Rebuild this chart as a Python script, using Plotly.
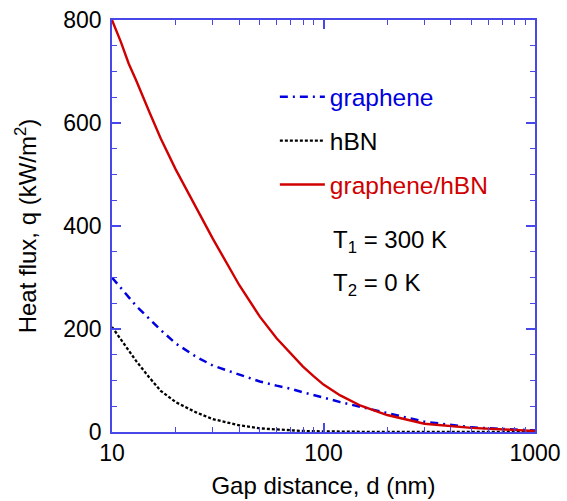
import plotly.graph_objects as go

d_nm = [10, 11, 12, 13, 15, 17, 20, 25, 30, 40, 50, 60, 70, 80, 90, 100, 120, 150, 200, 300, 500, 700, 1000]
q_graphene = [300, 280, 260, 245, 220, 198, 172, 146, 129, 111, 98, 90, 84, 77, 71, 67, 58, 49, 37, 20, 9, 6, 3]
q_hbn = [204, 180, 160, 138, 106, 80, 58, 38, 25, 13, 7, 4.5, 3, 2, 1.5, 1.1, 0.7, 0.4, 0.2, 0.1, 0.05, 0.02, 0.0]
q_gh = [800, 758, 715, 683, 622, 570, 510, 435, 375, 285, 224, 182, 153, 127, 108, 92, 71, 51, 33, 16, 8, 5, 2]

series_names = ["graphene", "hBN", "graphene/hBN"]
series_colors = ["#0000e0", "#000000", "#d00000"]

axis_color = "#4848e8"
font_family = "Liberation Sans, Arial, sans-serif"
fs_tick = 23
fs_title = 24
fs_text = 24.5

fig = go.Figure()
fig.add_trace(go.Scatter(x=d_nm, y=q_graphene, mode="lines",
                         name=f"<span style='color:{series_colors[0]}'>{series_names[0]}</span>",
                         legendgroup="a",
                         line=dict(color=series_colors[0], width=2.5, dash="8px,5px,2px,5px")))
fig.add_trace(go.Scatter(x=d_nm, y=q_hbn, mode="lines",
                         name=f"<span style='color:{series_colors[1]}'>{series_names[1]}</span>",
                         legendgroup="b",
                         line=dict(color=series_colors[1], width=2.3, dash="3px,2px")))
fig.add_trace(go.Scatter(x=d_nm, y=q_gh, mode="lines",
                         name=f"<span style='color:{series_colors[2]}'>{series_names[2]}</span>",
                         legendgroup="c",
                         line=dict(color=series_colors[2], width=2.4)))

fig.add_annotation(x=0.518, y=0.462, xref="paper", yref="paper", xanchor="left", yanchor="middle",
                   text="T<sub>1</sub> = 300 K", showarrow=False,
                   font=dict(size=fs_title, color="black", family=font_family))
fig.add_annotation(x=0.518, y=0.357, xref="paper", yref="paper", xanchor="left", yanchor="middle",
                   text="T<sub>2</sub> = 0 K", showarrow=False,
                   font=dict(size=fs_title, color="black", family=font_family))

fig.update_layout(
    width=567, height=501,
    margin=dict(l=112, r=32, t=20, b=69),
    paper_bgcolor="white", plot_bgcolor="white",
    font=dict(family=font_family, size=fs_tick, color="black"),
    showlegend=True,
    legend=dict(x=0.385, y=0.868, xanchor="left", yanchor="top",
                bgcolor="rgba(0,0,0,0)", borderwidth=0,
                traceorder="grouped", tracegroupgap=9, itemwidth=45,
                font=dict(size=fs_text, family=font_family)),
    xaxis=dict(type="log", range=[1, 3], showgrid=False, zeroline=False, automargin=False,
               showline=True, linecolor=axis_color, linewidth=1.6, mirror="ticks",
               ticks="inside", ticklen=9, tickwidth=1.5, tickcolor=axis_color,
               tickvals=[10, 100, 1000], ticktext=["10", "100", "1000"],
               tickfont=dict(size=fs_tick, color="black"),
               minor=dict(ticks="inside", ticklen=5, tickwidth=1.2, tickcolor=axis_color,
                          tickvals=[20, 30, 40, 50, 60, 70, 80, 90, 200, 300, 400, 500, 600, 700, 800, 900],
                          showgrid=False),
               title=dict(text="Gap distance, d (nm)", font=dict(size=fs_title), standoff=12)),
    yaxis=dict(range=[0, 800], showgrid=False, zeroline=False, automargin=False,
               showline=True, linecolor=axis_color, linewidth=1.6, mirror="ticks",
               ticks="inside", ticklen=9, tickwidth=1.5, tickcolor=axis_color,
               tickvals=[0, 200, 400, 600, 800], ticklabelstandoff=4,
               tickfont=dict(size=fs_tick, color="black"),
               minor=dict(ticks="inside", ticklen=5, tickwidth=1.2, tickcolor=axis_color,
                          dtick=50, showgrid=False),
               title=dict(text="Heat flux, q (kW/m<sup>2</sup>)", font=dict(size=fs_title), standoff=20)),
)

fig.write_html("out.html")
